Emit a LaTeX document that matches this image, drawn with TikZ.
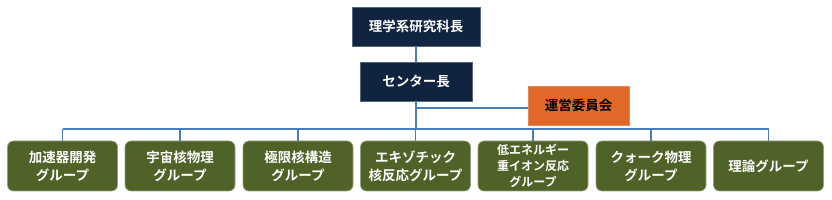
\documentclass[tikz,border=0pt]{standalone}
\usepackage{fontspec}
\setmainfont{Noto Sans CJK JP}[BoldFont={* Bold}]
\newfontfamily\jpb{Noto Sans CJK JP Bold}
\definecolor{navy}{HTML}{10243F}
\definecolor{orng}{HTML}{E0692A}
\definecolor{grn}{HTML}{4F6228}
\definecolor{lineblue}{HTML}{4A7EBB}
\begin{document}
\begin{tikzpicture}[x=1pt,y=-1pt,
  headbox/.style={fill=navy, draw=navy!70!white, line width=0.6pt, text=white, font=\jpb\fontsize{13.5}{16}\selectfont, inner sep=0pt, align=center},
  commbox/.style={fill=orng, draw=orng!80!white, line width=0.6pt, text=black, font=\jpb\fontsize{13.5}{16}\selectfont, inner sep=0pt, align=center, minimum width=101pt, minimum height=39pt},
  grpbox/.style={fill=grn, draw=grn!60!white, line width=0.6pt, rounded corners=6pt, text=white, font=\jpb\fontsize{13.5}{18}\selectfont, inner sep=0pt, align=center, minimum width=110pt, minimum height=50pt},
  small/.style={font=\jpb\fontsize{12}{16}\selectfont},
  conn/.style={draw=lineblue, line width=1.6pt}]
\useasboundingbox (0,0) rectangle (832,200);
\node[headbox, minimum width=128pt, minimum height=39pt] (dean) at (416,26.5) {理学系研究科長};
\node[headbox, minimum width=112pt, minimum height=39pt] (dir) at (416,81.5) {センター長};
\node[commbox] (comm) at (578.5,105.5) {運営委員会};
\node[grpbox] (g1) at (62.5,166) {加速器開発\\グループ};
\node[grpbox] (g2) at (180,166) {宇宙核物理\\グループ};
\node[grpbox] (g3) at (298,166) {極限核構造\\グループ};
\node[grpbox] (g4) at (415.5,166) {エキゾチック\\核反応グループ};
\node[grpbox, small] (g5) at (533,166) {低エネルギー\\重イオン反応\\グループ};
\node[grpbox] (g6) at (651,166) {クォーク物理\\グループ};
\node[grpbox] (g7) at (768.5,166) {理論グループ};
\coordinate (bus) at (416,129);
\coordinate (cj) at (416,108);
\draw[conn] (dean.south) -- (dir.north);
\draw[conn] (dir.south) -- (bus);
\draw[conn] (cj) -- (comm.west |- cj);
\draw[conn] (g1.north |- bus) -- (g7.north |- bus);
\foreach \g in {g1,g2,g3,g4,g5,g6,g7}{
  \draw[conn] (\g.north |- bus) -- (\g.north);
}
\end{tikzpicture}
\end{document}
